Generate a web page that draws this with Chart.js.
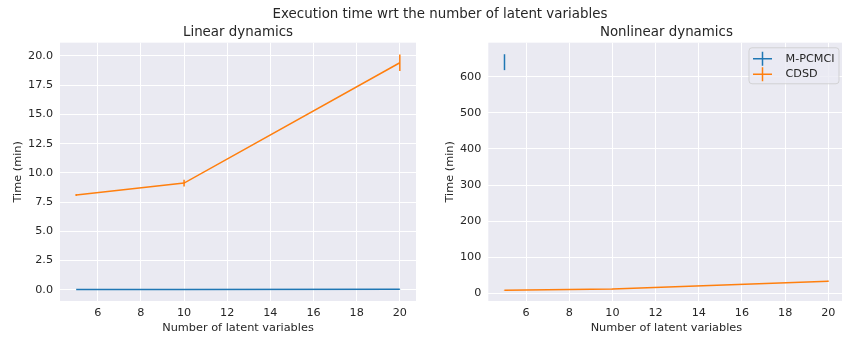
<!DOCTYPE html>
<html>
<head>
<meta charset="utf-8">
<script src="https://cdn.jsdelivr.net/npm/chart.js@4"></script>
<style>
  html, body { margin: 0; padding: 0; background: #fff; overflow: hidden; }
  #wrap { position: relative; width: 842px; height: 338px; overflow: hidden; }
  #suptitle { position: absolute; left: 0; top: 6px; width: 880px; text-align: center;
    font: 13.4px "DejaVu Sans"; line-height: 16px; color: #262626; }
  #c1 { position: absolute; left: 0; top: 0; }
  #c2 { position: absolute; left: 421px; top: 0; }
</style>
</head>
<body>
<div id="wrap">
  <canvas id="c1" width="421" height="338"></canvas>
  <canvas id="c2" width="424" height="338"></canvas>
  <div id="suptitle">Execution time wrt the number of latent variables</div>
</div>
<script>
var latentVars = [5, 10, 20];

var linearPcmci = [0.01, 0.02, 0.04];
var linearPcmciErr = [0.005, 0.005, 0.01];
var linearCdsd = [8.1, 9.12, 19.42];
var linearCdsdErr = [0.08, 0.28, 0.7];

var nonlinPcmci = [640, null, null];
var nonlinPcmciErr = [22, null, null];
var nonlinCdsd = [9, 12, 34];
var nonlinCdsdErr = [0.6, 0.8, 1.2];

var xTicks = [6, 8, 10, 12, 14, 16, 18, 20];
var linearYTicks = [0, 2.5, 5, 7.5, 10, 12.5, 15, 17.5, 20];
var nonlinYTicks = [0, 100, 200, 300, 400, 500, 600];

var BLUE = '#1f77b4';
var ORANGE = '#ff7f0e';
var TXT = '#262626';
var FONT = 'DejaVu Sans';

function points(ys) {
  return latentVars.map(function (x, i) { return { x: x, y: ys[i] }; });
}

// axes facecolor like seaborn darkgrid
var bgPlugin = {
  id: 'bg',
  beforeDraw: function (chart) {
    var a = chart.chartArea, ctx = chart.ctx;
    ctx.save();
    ctx.fillStyle = '#eaeaf2';
    ctx.fillRect(a.left, a.top, a.right - a.left, a.bottom - a.top);
    ctx.restore();
  }
};

// vertical error bars, no caps
var errPlugin = {
  id: 'errbars',
  afterDatasetDraw: function (chart, args) {
    var ds = chart.data.datasets[args.index];
    var xs = chart.scales.x, ys = chart.scales.y, ctx = chart.ctx;
    ctx.save();
    ctx.strokeStyle = ds.borderColor;
    ctx.lineWidth = 1.5;
    ds.data.forEach(function (p, i) {
      var e = ds.errors[i];
      if (p.y == null || e == null) return;
      var px = xs.getPixelForValue(p.x);
      ctx.beginPath();
      ctx.moveTo(px, ys.getPixelForValue(p.y - e));
      ctx.lineTo(px, ys.getPixelForValue(p.y + e));
      ctx.stroke();
    });
    ctx.restore();
  }
};

// matplotlib-like legend inside the axes, upper right
var boxLegend = {
  id: 'boxLegend',
  afterDraw: function (chart) {
    if (!chart.options.plugins.boxLegend.show) return;
    var a = chart.chartArea, ctx = chart.ctx;
    var w = 90, h = 36;
    var left = a.right - 6 - w, top = a.top + 4.6;
    ctx.save();
    ctx.beginPath();
    ctx.roundRect(left + 0.5, top + 0.5, w, h, 3);
    ctx.fillStyle = 'rgba(234,234,242,0.8)';
    ctx.fill();
    ctx.strokeStyle = 'rgba(204,204,204,0.8)';
    ctx.lineWidth = 1;
    ctx.stroke();
    ctx.font = '11.2px "' + FONT + '"';
    ctx.textBaseline = 'middle';
    ctx.fillStyle = TXT;
    chart.data.datasets.forEach(function (ds, i) {
      var cy = top + 11.5 + i * 15.5;
      var hx0 = left + 4.5, hx1 = left + 23.5, hc = (hx0 + hx1) / 2;
      ctx.strokeStyle = ds.borderColor;
      ctx.lineWidth = 1.5;
      ctx.beginPath();
      ctx.moveTo(hx0, cy); ctx.lineTo(hx1, cy);
      ctx.moveTo(hc, cy - 7); ctx.lineTo(hc, cy + 7);
      ctx.stroke();
      ctx.fillText(ds.label, left + 37, cy);
    });
    ctx.restore();
  }
};

function makeChart(id, title, pcmci, pcmciErr, cdsd, cdsdErr, yMin, yMax, yTicks, yFmt, yWidth, yTitlePad, padRight, legend) {
  return new Chart(document.getElementById(id), {
    type: 'line',
    data: {
      datasets: [
        { label: 'M-PCMCI', data: points(pcmci), errors: pcmciErr, borderColor: BLUE,
          borderWidth: 1.5, pointRadius: 0, spanGaps: false },
        { label: 'CDSD', data: points(cdsd), errors: cdsdErr, borderColor: ORANGE,
          borderWidth: 1.5, pointRadius: 0, spanGaps: false }
      ]
    },
    options: {
      responsive: false,
      animation: false,
      layout: { padding: { left: 0, right: padRight, top: 0, bottom: 0 } },
      plugins: {
        legend: { display: false },
        tooltip: { enabled: false },
        title: {
          display: true, text: title, fullSize: false, color: TXT,
          font: { family: FONT, size: 13.4, weight: 'normal' },
          padding: { top: 24.3, bottom: 2.3 }
        },
        boxLegend: { show: legend }
      },
      scales: {
        x: {
          type: 'linear', min: 4.25, max: 20.75,
          afterBuildTicks: function (s) { s.ticks = xTicks.map(function (v) { return { value: v }; }); },
          afterFit: function (s) { s.height = 37; },
          grid: { color: '#ffffff', lineWidth: 1, drawTicks: false },
          border: { display: false },
          ticks: { color: TXT, font: { family: FONT, size: 11.2 }, padding: 5.5 },
          title: { display: true, text: 'Number of latent variables', color: TXT,
            font: { family: FONT, size: 11.3 }, padding: 3.2 }
        },
        y: {
          type: 'linear', min: yMin, max: yMax,
          afterBuildTicks: function (s) { s.ticks = yTicks.map(function (v) { return { value: v }; }); },
          afterFit: function (s) { s.width = yWidth; },
          grid: { color: '#ffffff', lineWidth: 1, drawTicks: false },
          border: { display: false },
          ticks: { color: TXT, font: { family: FONT, size: 11.2 }, padding: 7, callback: yFmt },
          title: { display: true, text: 'Time (min)', color: TXT,
            font: { family: FONT, size: 11.3 }, padding: yTitlePad }
        }
      }
    },
    plugins: [bgPlugin, errPlugin, boxLegend]
  });
}

makeChart('c1', 'Linear dynamics', linearPcmci, linearPcmciErr, linearCdsd, linearCdsdErr,
  -0.97, 21.14, linearYTicks, function (v) { return v.toFixed(1); }, 60, 10.9, 5, false);

makeChart('c2', 'Nonlinear dynamics', nonlinPcmci, nonlinPcmciErr, nonlinCdsd, nonlinCdsdErr,
  -21, 694, nonlinYTicks, function (v) { return String(v); }, 67.3, 22.2, 0.5, true);
</script>
</body>
</html>
